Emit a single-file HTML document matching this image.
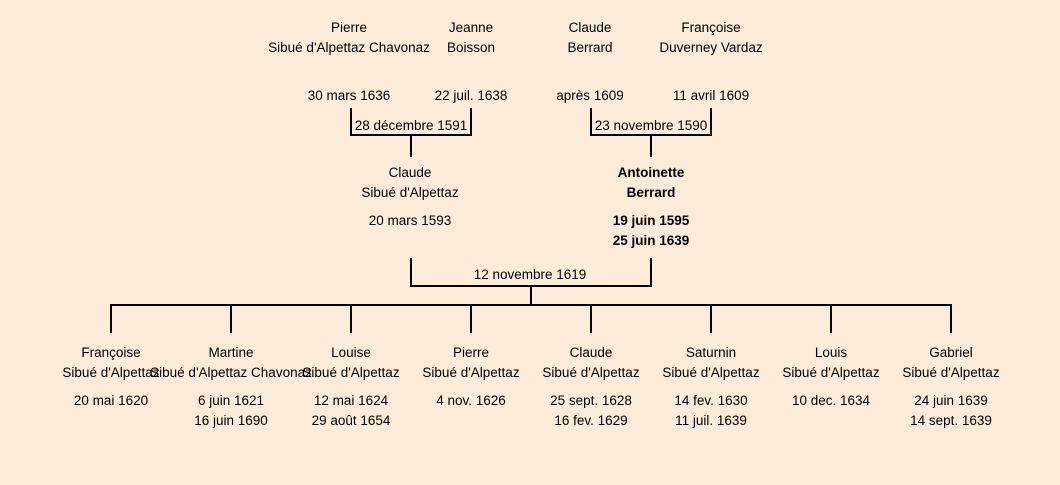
<html><head><style>
body{margin:0;width:1060px;height:485px;background:#fcebd8;position:relative;overflow:hidden;font-family:"Comic Sans MS","Liberation Sans",sans-serif;font-size:13.5px;color:#000}
.t{position:absolute;width:240px;margin-left:-120px;text-align:center;line-height:20px;white-space:nowrap}
.b{font-weight:bold}
svg{position:absolute;left:0;top:0}
</style></head><body>
<svg width="1060" height="485"><g stroke="#000" stroke-width="2" fill="none">
<path d="M351 108V135H471V108M411 135V157"/>
<path d="M591 108V135H711V108M651 135V157"/>
<path d="M411 258V286H651V258M531 286V305"/>
<path d="M110 305H952M111 305V333M231 305V333M351 305V333M471 305V333M591 305V333M711 305V333M831 305V333M951 305V333"/>
</g></svg>
<div class="t" style="left:349px;top:18px">Pierre<br>Sibué d'Alpettaz Chavonaz</div>
<div class="t" style="left:471px;top:18px">Jeanne<br>Boisson</div>
<div class="t" style="left:590px;top:18px">Claude<br>Berrard</div>
<div class="t" style="left:711px;top:18px">Françoise<br>Duverney Vardaz</div>
<div class="t" style="left:349px;top:86px">30 mars 1636</div>
<div class="t" style="left:471px;top:86px">22 juil. 1638</div>
<div class="t" style="left:590px;top:86px">après 1609</div>
<div class="t" style="left:711px;top:86px">11 avril 1609</div>
<div class="t" style="left:411px;top:116px">28 décembre 1591</div>
<div class="t" style="left:651px;top:116px">23 novembre 1590</div>
<div class="t" style="left:410px;top:163px">Claude<br>Sibué d'Alpettaz</div>
<div class="t" style="left:410px;top:211px">20 mars 1593</div>
<div class="t b" style="left:651px;top:163px">Antoinette<br>Berrard</div>
<div class="t b" style="left:651px;top:211px">19 juin 1595<br>25 juin 1639</div>
<div class="t" style="left:530px;top:265px">12 novembre 1619</div>
<div class="t" style="left:111px;top:343px">Françoise<br>Sibué d'Alpettaz</div>
<div class="t" style="left:111px;top:391px">20 mai 1620</div>
<div class="t" style="left:231px;top:343px">Martine<br>Sibué d'Alpettaz Chavonaz</div>
<div class="t" style="left:231px;top:391px">6 juin 1621<br>16 juin 1690</div>
<div class="t" style="left:351px;top:343px">Louise<br>Sibué d'Alpettaz</div>
<div class="t" style="left:351px;top:391px">12 mai 1624<br>29 août 1654</div>
<div class="t" style="left:471px;top:343px">Pierre<br>Sibué d'Alpettaz</div>
<div class="t" style="left:471px;top:391px">4 nov. 1626</div>
<div class="t" style="left:591px;top:343px">Claude<br>Sibué d'Alpettaz</div>
<div class="t" style="left:591px;top:391px">25 sept. 1628<br>16 fev. 1629</div>
<div class="t" style="left:711px;top:343px">Saturnin<br>Sibué d'Alpettaz</div>
<div class="t" style="left:711px;top:391px">14 fev. 1630<br>11 juil. 1639</div>
<div class="t" style="left:831px;top:343px">Louis<br>Sibué d'Alpettaz</div>
<div class="t" style="left:831px;top:391px">10 dec. 1634</div>
<div class="t" style="left:951px;top:343px">Gabriel<br>Sibué d'Alpettaz</div>
<div class="t" style="left:951px;top:391px">24 juin 1639<br>14 sept. 1639</div>
</body></html>
